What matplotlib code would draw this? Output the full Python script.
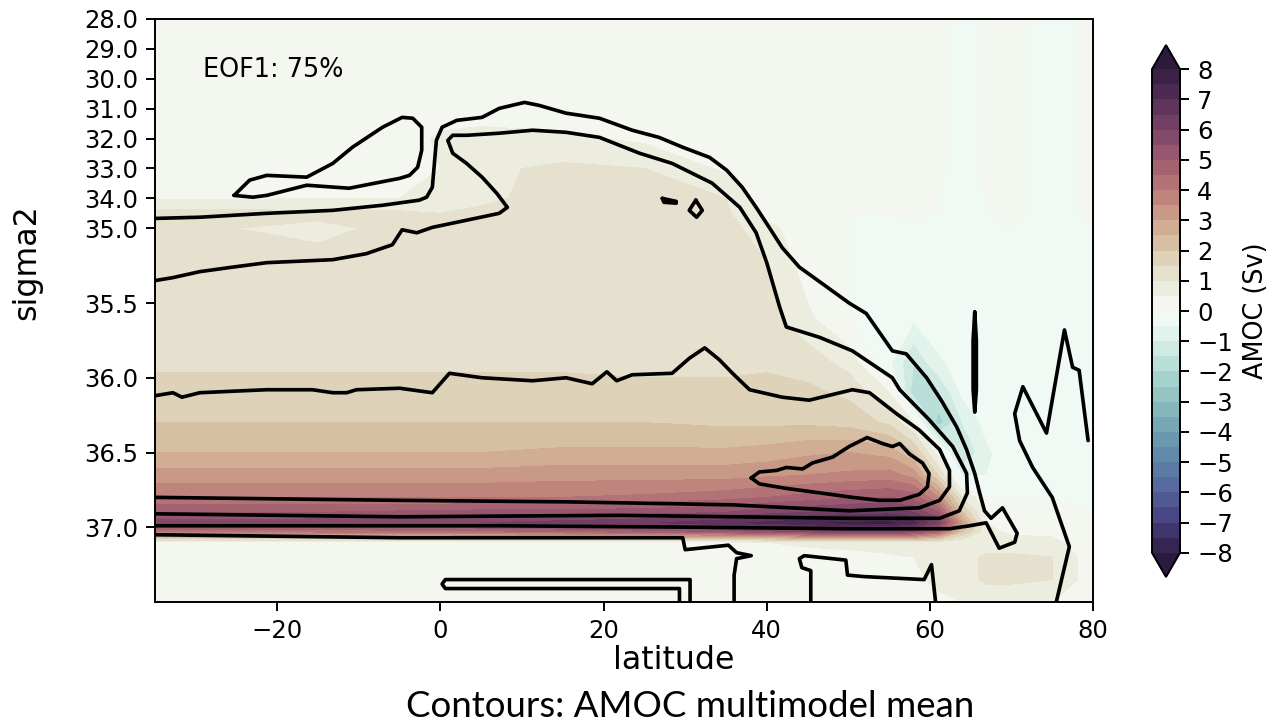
import numpy as np
import matplotlib.pyplot as plt
from matplotlib.colors import LinearSegmentedColormap

# EOF1 pattern (Sv) on a coarse latitude / sigma2 grid
lat = [-35, -25, -15, -5, 0, 5, 15, 25, 35, 40, 45, 50, 55, 58, 61, 64, 67, 70, 75, 80]
sigma2 = [28, 31, 32, 33, 34, 34.5, 35, 35.3, 35.6, 35.9, 36.1, 36.3, 36.5, 36.65,
          36.8, 36.9, 36.97, 37.03, 37.1, 37.2, 37.35, 37.5]
eof1 = np.array([
    [0.2, 0.2, 0.2, 0.2, 0.2, 0.2, 0.2, 0.2, 0.2, 0.2, 0.2, 0.2, 0.2, 0.3, 0.1, -0.2, 0.1, 0.1, -0.2, 0.1],
    [0.2, 0.2, 0.2, 0.2, 0.2, 0.2, 0.2, 0.2, 0.2, 0.2, 0.2, 0.2, 0.2, 0.3, 0.1, -0.2, 0.1, 0.1, -0.2, 0.1],
    [0.2, 0.2, 0.2, 0.2, 0.6, 0.7, 0.6, 0.4, 0.2, 0.2, 0.2, 0.2, 0.2, 0.3, 0.1, -0.2, 0.1, 0.1, -0.2, 0.1],
    [0.2, 0.2, 0.2, 0.3, 0.5, 0.9, 1.1, 1.0, 0.4, 0.2, 0.2, 0.2, 0.2, 0.3, 0.1, -0.2, 0.1, 0.1, -0.2, 0.1],
    [0.45, 0.45, 0.5, 0.5, 0.7, 0.9, 1.2, 1.2, 1.0, 0.2, 0.1, 0.1, 0.1, 0.2, 0.0, -0.2, 0.0, 0.1, -0.2, 0.1],
    [1.2, 1.2, 1.1, 1.1, 1.0, 1.1, 1.3, 1.3, 1.1, 0.3, 0.1, 0.0, 0.0, 0.1, 0.0, -0.2, 0.0, 0.1, -0.2, 0.1],
    [1.2, 1.0, 0.9, 1.1, 1.2, 1.2, 1.3, 1.3, 1.2, 0.7, 0.1, 0.0, -0.1, -0.1, -0.1, -0.2, 0.0, 0.0, -0.2, 0.0],
    [1.3, 1.2, 1.2, 1.2, 1.3, 1.3, 1.4, 1.4, 1.3, 1.1, 0.3, 0.0, -0.2, -0.2, -0.1, -0.2, 0.0, 0.0, -0.2, 0.0],
    [1.3, 1.3, 1.3, 1.2, 1.2, 1.2, 1.4, 1.4, 1.4, 1.2, 0.6, 0.0, -0.3, -0.4, -0.2, -0.2, -0.1, 0.0, -0.2, 0.0],
    [1.4, 1.4, 1.4, 1.4, 1.4, 1.4, 1.4, 1.4, 1.4, 1.4, 1.3, 0.8, -0.4, -1.5, -0.6, -0.3, -0.1, 0.0, -0.1, 0.0],
    [1.7, 1.7, 1.7, 1.7, 1.7, 1.7, 1.7, 1.6, 1.6, 1.7, 1.6, 1.4, 0.5, -1.8, -1.6, -0.4, -0.2, 0.0, 0.0, 0.0],
    [2.0, 2.0, 2.0, 2.0, 2.0, 2.0, 2.0, 2.0, 1.9, 1.9, 1.9, 1.8, 1.4, 0.5, -2.3, -1.0, -0.3, -0.1, 0.0, 0.0],
    [2.5, 2.5, 2.5, 2.5, 2.5, 2.5, 2.6, 2.6, 2.6, 2.7, 2.9, 3.0, 2.8, 2.0, 0.3, -1.5, -0.6, -0.2, 0.0, 0.0],
    [3.2, 3.2, 3.2, 3.2, 3.2, 3.2, 3.3, 3.3, 3.3, 3.4, 3.5, 3.6, 3.7, 3.3, 1.5, -0.6, -0.5, -0.2, 0.0, 0.0],
    [4.0, 4.0, 4.0, 4.0, 4.0, 4.0, 4.0, 4.1, 4.3, 4.5, 4.7, 4.9, 5.0, 4.8, 3.5, 1.0, 0.0, 0.0, 0.0, 0.0],
    [5.0, 5.0, 5.0, 5.1, 5.1, 5.2, 5.2, 5.3, 5.5, 5.8, 6.0, 6.2, 6.3, 6.0, 5.0, 2.0, 0.3, 0.1, 0.1, 0.0],
    [5.7, 5.7, 5.8, 5.9, 5.9, 6.0, 6.2, 6.4, 6.9, 7.1, 7.4, 7.6, 7.6, 7.2, 6.0, 3.0, 0.5, 0.3, 0.3, 0.1],
    [4.0, 4.0, 4.1, 4.2, 4.2, 4.3, 4.5, 4.7, 5.0, 5.3, 5.6, 5.8, 5.8, 5.5, 4.5, 2.0, 0.6, 0.4, 0.4, 0.1],
    [0.3, 0.3, 0.3, 0.3, 0.3, 0.3, 0.3, 0.4, 0.4, 0.5, 0.6, 0.7, 0.8, 0.8, 0.7, 0.6, 0.7, 0.7, 0.6, 0.2],
    [0.2, 0.2, 0.2, 0.2, 0.2, 0.2, 0.2, 0.2, 0.2, 0.3, 0.3, 0.3, 0.4, 0.5, 0.6, 0.8, 1.1, 1.1, 1.0, 0.2],
    [0.2, 0.2, 0.2, 0.2, 0.2, 0.2, 0.2, 0.2, 0.2, 0.2, 0.2, 0.3, 0.3, 0.4, 0.6, 0.8, 1.1, 1.1, 1.0, 0.2],
    [0.1, 0.1, 0.1, 0.1, 0.1, 0.1, 0.1, 0.1, 0.1, 0.1, 0.1, 0.2, 0.2, 0.3, 0.4, 0.5, 0.6, 0.6, 0.5, 0.1],
])

# multimodel mean AMOC contours, digitised as (latitude, sigma2)
mean_outer = [(-35, 34.67), (-29.5, 34.63), (-21.3, 34.50), (-13.2, 34.40), (-7.1, 34.23), (-2.6, 34.06),
              (-1.7, 33.96), (-1.0, 33.63), (-0.5, 32.06), (0.2, 31.62), (2.0, 31.39), (5.1, 31.29),
              (7.2, 30.99), (10.3, 30.79), (12.1, 30.89), (15.4, 31.15), (19.5, 31.32), (23.5, 31.72),
              (26.8, 31.96), (29.7, 32.29), (33.0, 32.63), (35.1, 33.06), (37.0, 33.63), (38.7, 34.30),
              (40.3, 34.97), (41.9, 35.13), (44.0, 35.26), (46.8, 35.37), (50.1, 35.50), (52.2, 35.57),
              (55.4, 35.82), (57.1, 35.84), (59.6, 36.00), (61.5, 36.16), (63.3, 36.33), (64.5, 36.48),
              (65.5, 36.64), (66.1, 36.77), (66.7, 36.89), (67.5, 36.94), (68.9, 36.87), (70.7, 37.04),
              (70.4, 37.10), (68.5, 37.14), (66.9, 36.97), (64.9, 36.99), (62.4, 37.01), (50.1, 37.01),
              (31.8, 37.00), (7.2, 36.99), (-17.3, 36.99), (-35, 36.99)]
mean_second = [(-35, 35.35), (-32.8, 35.33), (-29.5, 35.29), (-25.5, 35.26), (-21.3, 35.23), (-13.2, 35.21),
               (-9.1, 35.17), (-5.9, 35.11), (-4.7, 35.01), (-2.9, 35.03), (-1.0, 34.97), (3.2, 34.73),
               (7.2, 34.50), (8.2, 34.30), (6.9, 33.83), (5.1, 33.29), (3.2, 32.83), (1.5, 32.49),
               (0.9, 32.06), (1.5, 31.89), (3.2, 31.89), (7.2, 31.82), (11.3, 31.72), (15.4, 31.79),
               (19.5, 31.96), (24.4, 32.49), (28.4, 32.83), (33.3, 33.49), (36.7, 34.30), (38.7, 35.03),
               (40.0, 35.23), (41.6, 35.53), (42.4, 35.66), (46.5, 35.73), (50.5, 35.82), (55.4, 36.00),
               (56.3, 36.08), (59.9, 36.28), (62.8, 36.46), (64.5, 36.64), (64.6, 36.77), (63.6, 36.89),
               (61.2, 36.94), (50.1, 36.94), (21.9, 36.92), (-5.0, 36.93), (-35, 36.91)]
mean_third = [(-35, 36.12), (-32.8, 36.10), (-31.7, 36.13), (-29.5, 36.10), (-25.5, 36.09), (-21.3, 36.08),
              (-15.7, 36.08), (-13.2, 36.10), (-11.5, 36.10), (-10.3, 36.08), (-5.0, 36.07), (-1.0, 36.10),
              (1.1, 35.97), (5.1, 36.00), (11.3, 36.02), (15.4, 36.00), (18.6, 36.04), (20.4, 35.96),
              (21.6, 36.02), (23.5, 35.98), (28.4, 35.97), (30.5, 35.87), (32.4, 35.80), (34.2, 35.88),
              (35.8, 35.97), (37.9, 36.08), (41.9, 36.13), (45.2, 36.15), (50.5, 36.08), (52.6, 36.10),
              (55.9, 36.24), (58.7, 36.35), (61.2, 36.48), (62.4, 36.62), (62.4, 36.73), (61.2, 36.82),
              (58.7, 36.87), (50.1, 36.89), (35.8, 36.85), (15.4, 36.83), (-5.0, 36.82), (-35, 36.80)]
mean_core = [(38.1, 36.67), (39.1, 36.63), (41.2, 36.62), (42.4, 36.60), (44.4, 36.61), (45.6, 36.57),
             (48.1, 36.53), (50.1, 36.46), (52.3, 36.40), (54.2, 36.44), (55.4, 36.46), (56.3, 36.44),
             (57.5, 36.51), (59.1, 36.57), (59.9, 36.64), (59.7, 36.73), (58.7, 36.78), (56.3, 36.82),
             (53.8, 36.82), (50.5, 36.80), (46.5, 36.77), (42.4, 36.74), (39.1, 36.71), (38.1, 36.67)]
mean_tongue = [(-25.3, 33.90), (-23.4, 33.39), (-21.3, 33.23), (-16.4, 33.29), (-13.2, 32.83), (-10.8, 32.29),
               (-7.1, 31.62), (-4.7, 31.29), (-3.4, 31.32), (-2.3, 31.62), (-2.3, 32.39), (-2.8, 32.96),
               (-3.8, 33.23), (-5.0, 33.33), (-11.2, 33.66), (-16.4, 33.56), (-21.3, 33.90), (-23.0, 33.96),
               (-25.3, 33.90)]
mean_dash = [(27.2, 34.00), (28.9, 34.10), (28.9, 34.16), (27.4, 34.13), (27.2, 34.00)]
mean_diamond = [(31.3, 34.06), (32.1, 34.40), (31.4, 34.63), (30.5, 34.40), (31.3, 34.06)]
mean_sliver = [(65.5, 35.56), (65.7, 35.75), (65.7, 36.08), (65.5, 36.23), (65.3, 36.08), (65.3, 35.75), (65.5, 35.56)]
mean_bottom = [(-35, 37.05), (-5.0, 37.07), (29.7, 37.07), (30.0, 37.15), (35.3, 37.12), (36.3, 37.17),
               (38.1, 37.19), (36.3, 37.21), (36.0, 37.32), (36.0, 37.50)]
mean_cap = [(45.4, 37.50), (45.4, 37.29), (44.3, 37.27), (44.0, 37.21), (44.6, 37.19), (49.7, 37.22),
            (49.9, 37.32), (51.9, 37.33), (59.3, 37.35), (60.2, 37.25), (60.7, 37.50)]
mean_strip = [(29.3, 37.50), (29.3, 37.41), (0.6, 37.41), (0.2, 37.38), (0.6, 37.35), (30.6, 37.35), (30.6, 37.50)]
mean_arctic = [(75.5, 37.50), (77.1, 37.13), (75.0, 36.80), (72.6, 36.60), (71.0, 36.42), (70.4, 36.24),
               (71.4, 36.06), (74.3, 36.37), (76.5, 35.68), (77.5, 35.93), (78.3, 35.95), (79.4, 36.42)]

yticks = [28.0, 29.0, 30.0, 31.0, 32.0, 33.0, 34.0, 35.0, 35.5, 36.0, 36.5, 37.0]
xticks = [-20, 0, 20, 40, 60, 80]


# light layers (sigma2 < 35) are squeezed five times
def squeeze(s):
    s = np.asarray(s, dtype=float)
    return np.where(s < 35, 35 - (35 - s) / 5, s)


def unsqueeze(t):
    t = np.asarray(t, dtype=float)
    return np.where(t < 35, 35 - (35 - t) * 5, t)


anchors = [(-8, '#2e1c44'), (-7, '#463e7c'), (-6, '#53629c'), (-5, '#5d83a6'), (-4, '#6e9fb0'),
           (-3, '#8bbdbe'), (-2, '#aed8d2'), (-1, '#d9efe8'), (-0.3, '#eff8f3'), (0, '#f5faf5'),
           (0.3, '#f3f7f0'), (1, '#ebe8d8'), (1.5, '#e3dcc6'), (2, '#dacaae'), (3, '#cfa58d'),
           (4, '#bb7d78'), (5, '#a05d71'), (6, '#7c4568'), (7, '#58305b'), (8, '#341d40')]
cmap = LinearSegmentedColormap.from_list('amoc', [((v + 8) / 16, c) for v, c in anchors])
cmap.set_under('#2a1a3e')
cmap.set_over('#2d1a3a')

W, H = 1274, 725
fig = plt.figure(figsize=(W / 175, H / 175), dpi=175)
ax = fig.add_axes([155 / W, 123 / H, 938 / W, 583 / H])
ax.set_yscale('function', functions=(squeeze, unsqueeze))

cf = ax.contourf(lat, sigma2, eof1, levels=np.arange(-8, 8.5, 0.5), cmap=cmap, extend='both')

for line in [mean_outer, mean_second, mean_third, mean_core, mean_tongue, mean_dash, mean_diamond,
             mean_sliver, mean_bottom, mean_cap, mean_strip, mean_arctic]:
    pts = np.array(line)
    ax.plot(pts[:, 0], pts[:, 1], color='black', lw=1.5, solid_joinstyle='round', solid_capstyle='round')

ax.set_xlim(-35, 80)
ax.set_ylim(37.5, 28)
ax.set_yticks(yticks)
ax.set_yticklabels([f'{v:.1f}' for v in yticks])
ax.set_xticks(xticks)
ax.minorticks_off()

ax.set_xlabel('latitude', fontsize=13, va='center')
ax.xaxis.set_label_coords(0.553, -0.0995)
ax.set_ylabel('sigma2', fontsize=13, va='center')
ax.yaxis.set_label_coords(-0.1365, 0.583)

ax.text(0.0512, 0.9125, 'EOF1: 75%', transform=ax.transAxes, fontsize=10.5, va='center')

cax = fig.add_axes([1152 / W, 148 / H, 28 / W, 532 / H])
cbar = fig.colorbar(cf, cax=cax, ticks=range(-8, 9))
cbar.set_label('AMOC (Sv)', fontsize=10.5)
cbar.outline.set_linewidth(0.8)

fig.text(0.542, 0.025, 'Contours: AMOC multimodel mean', family='Lato', fontsize=15.1,
         ha='center', va='center')

fig.savefig('out.png', dpi=175)
